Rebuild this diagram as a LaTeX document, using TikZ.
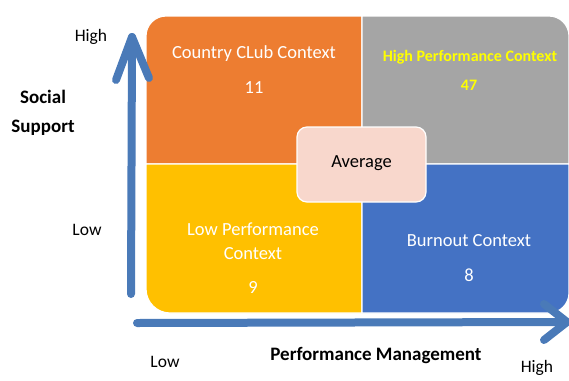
\documentclass[tikz,border=0pt]{standalone}
\usepackage{fontspec}
\setmainfont{Carlito}
\begin{document}
\begin{tikzpicture}[x=1pt,y=-1pt,
  quad/.style={draw=white,line width=1.2pt},
  qtext/.style={text=white,font=\fontsize{18.5}{24}\selectfont,align=center},
  axlabel/.style={font=\fontsize{17.5}{21}\selectfont,text=black},
  axtitle/.style={font=\bfseries\fontsize{19}{29}\selectfont,text=black,align=center},
  axisline/.style={draw=axisblue,line width=8pt,line cap=round,line join=round}]
\definecolor{qorange}{HTML}{ED7D31}
\definecolor{qgray}{HTML}{A5A5A5}
\definecolor{qyellow}{HTML}{FFC000}
\definecolor{qblue}{HTML}{4472C4}
\definecolor{qavg}{HTML}{F8D7CC}
\definecolor{axisblue}{HTML}{4A7AB8}
\definecolor{hiyellow}{HTML}{FFFF00}
\useasboundingbox (0,0) rectangle (569,380);
\clip (0,0) rectangle (569,380);
% quadrants
\path[quad,fill=qorange] (362,164) -- (146,164) [rounded corners=20pt] -- (146,16) [sharp corners] -- (362,16) -- cycle;
\path[quad,fill=qgray] (362,164) -- (362,16) [rounded corners=20pt] -- (569,16) [sharp corners] -- (569,164) -- cycle;
\path[quad,fill=qyellow] (362,164) -- (146,164) [rounded corners=24pt] -- (146,313) [sharp corners] -- (362,313) -- cycle;
\path[quad,fill=qblue] (362,164) -- (569,164) [rounded corners=20pt] -- (569,313) [sharp corners] -- (362,313) -- cycle;
% quadrant texts
\node[qtext] (cc) at (254,54) {Country CLub Context};
\node[qtext] (cc11) at (254,88) {11};
\node[qtext,text=hiyellow,font=\bfseries\fontsize{16}{20}\selectfont] (hp) at (470,57) {High Performance Context};
\node[qtext,text=hiyellow,font=\bfseries\fontsize{16}{20}\selectfont] (hp47) at (469,85) {47};
\node[qtext] (lp) at (253,241) {Low Performance\\Context};
\node[qtext] (lp9) at (253,287) {9};
\node[qtext] (bo) at (469,241) {Burnout Context};
\node[qtext] (bo8) at (469,275) {8};
% average box
\draw[draw=white,line width=1.2pt,fill=qavg,rounded corners=10pt] (297,127) rectangle (426,202);
\node[font=\fontsize{18.5}{22}\selectfont] (avg) at (361.5,163) {Average};
% axes
\coordinate (vbot) at (131,294);
\coordinate (vtip) at (132,37);
\coordinate (vbl) at (116,80);
\coordinate (vbr) at (149,78);
\draw[axisline] (vbot) -- (vtip);
\draw[axisline] (vbl) -- (vtip) -- (vbr);
\coordinate (hl) at (137,323);
\coordinate (htip) at (567,322);
\coordinate (hbu) at (544,304);
\coordinate (hbd) at (544,340);
\draw[axisline] (hl) -- (htip);
\draw[axisline] (hbu) -- (htip) -- (hbd);
% axis labels
\node[axlabel] (yhigh) at (91,37) {High};
\node[axlabel] (ylow) at (87,230) {Low};
\node[axlabel] (xlow) at (165,362) {Low};
\node[axlabel] (xhigh) at (537,368) {High};
\node[axtitle] (ytitle) at (43,113) {Social\\Support};
\node[axtitle] (xtitle) at (376,356) {Performance Management};
\end{tikzpicture}
\end{document}
